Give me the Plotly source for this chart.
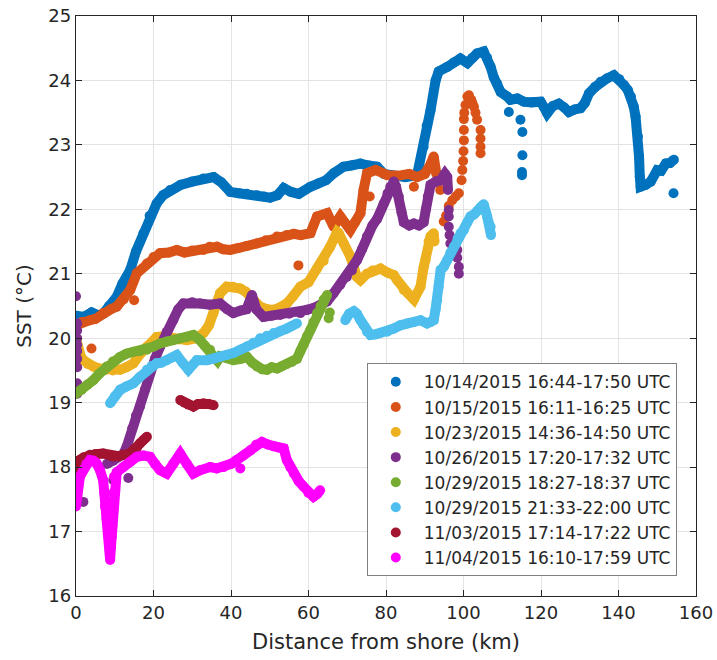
import plotly.graph_objects as go

# ---------------- data ----------------
names = [
    "10/14/2015 16:44-17:50 UTC",
    "10/15/2015 16:11-16:25 UTC",
    "10/23/2015 14:36-14:50 UTC",
    "10/26/2015 17:20-17:32 UTC",
    "10/29/2015 18:27-18:37 UTC",
    "10/29/2015 21:33-22:00 UTC",
    "11/03/2015 17:14-17:22 UTC",
    "11/04/2015 16:10-17:59 UTC",
]
colors = ["#0072BD", "#D95319", "#EDB120", "#7E2F8E",
          "#77AC30", "#4DBEEE", "#A2142F", "#FF00FF"]

s1_x = [0, 2, 4, 6, 7, 8.5, 10.5, 12, 14, 15.5, 17.4, 19, 20.8, 22.5, 24.3, 27, 30, 32.9, 35.5,
        37.5, 39.8, 42, 44, 46.7, 48.5, 50.1, 52, 53.6, 55.5, 57.5, 60.5, 62.5, 64.5, 66.5, 69, 71,
        73.4, 75.5, 77.7, 79.5, 82, 85, 88, 89.7, 90.5, 91.5, 92.8, 93.6, 95.8, 97.5, 99.2, 101,
        102.3, 103.5, 105.2, 106.1, 107, 107.8, 108.7, 109.6, 111.3, 112.1, 113.9, 115.6, 117.5,
        119.9, 120.8, 121.6, 123, 124.6, 126, 127.2, 128.7, 130.2, 131.3, 132.4, 134, 135.4, 137,
        138.8, 140.2, 141.4, 142.4, 143.2, 143.9, 144.4, 145, 145.3, 145.5, 145.7, 147, 148.3,
        150, 151, 152.2, 153.3, 154.3]
s1_y = [20.35, 20.33, 20.4, 20.35, 20.38, 20.5, 20.64, 20.85, 21.06, 21.35, 21.63, 21.9, 22.09,
        22.22, 22.3, 22.38, 22.43, 22.48, 22.5, 22.42, 22.27, 22.25, 22.24, 22.22, 22.2, 22.18,
        22.22, 22.33, 22.27, 22.24, 22.35, 22.4, 22.45, 22.56, 22.66, 22.68, 22.71, 22.68, 22.66,
        22.55, 22.52, 22.5, 22.53, 22.97, 23.3, 23.54, 24.0, 24.14, 24.21, 24.28, 24.34, 24.27,
        24.35, 24.42, 24.45, 24.35, 24.21, 24.05, 23.95, 23.82, 23.75, 23.7, 23.72, 23.67, 23.66,
        23.67, 23.58, 23.49, 23.6, 23.64, 23.58, 23.51, 23.55, 23.57, 23.65, 23.8, 23.9, 23.98,
        24.03, 24.08, 24.02, 23.93, 23.85, 23.75, 23.6, 23.44, 23.13, 22.82, 22.51, 22.35, 22.38,
        22.43, 22.61, 22.6, 22.71, 22.72, 22.77]
s1_ex = [111.7, 114.7, 115.2, 115.2, 115.1, 115.1, 154.2]
s1_ey = [23.51, 23.39, 23.2, 22.84, 22.53, 22.58, 22.25]

s2_x = [0, 1.5, 3.6, 5, 7, 9, 10.5, 12.3, 14, 15.7, 18.3, 20, 21.7, 24, 26, 28, 30, 32.9, 34.5,
        36.4, 38, 39.8, 42, 44, 46.7, 49, 51.9, 54.4, 56.2, 58, 60.5, 62.2, 64.8, 66.5, 68.2, 70.8,
        72, 73.4, 74.2, 75.1, 77.3, 80.3, 83, 86, 88, 90, 91.5, 92.3, 93]
s2_y = [20.2, 20.25, 20.28, 20.3, 20.39, 20.45, 20.49, 20.6, 20.75, 21.01, 21.16, 21.26, 21.32,
        21.33, 21.37, 21.33, 21.36, 21.37, 21.42, 21.42, 21.38, 21.37, 21.4, 21.43, 21.47, 21.52,
        21.58, 21.6, 21.62, 21.6, 21.63, 21.89, 21.94, 21.73, 21.89, 21.68, 21.8, 21.94, 22.3,
        22.56, 22.61, 22.53, 22.52, 22.55, 22.5, 22.55, 22.7, 22.82, 22.55]
s2_ex = [4, 15, 57.4, 75.8, 87.2, 94, 94.9, 95.5, 96.2, 97.1, 98, 98.8, 99.5, 99.7, 99.9, 100,
         100.1, 100.1, 100.1, 100.2, 100.5, 101, 101.4, 102, 102.3, 102.7, 103.1, 103.5, 104.4,
         104.4, 104.4, 104.4]
s2_ey = [19.84, 20.59, 21.13, 22.2, 22.35, 22.3, 21.81, 21.9, 22.05, 22.14, 22.2, 22.25, 22.45,
         22.61, 22.75, 22.9, 23.07, 23.23, 23.4, 23.5, 23.62, 23.75, 23.77, 23.7, 23.65, 23.59,
         23.5, 23.39, 23.23, 23.1, 22.97, 22.87]

s3_x = [0, 0.5, 1.2, 1.9, 3, 4.5, 6, 7.9, 9.5, 11.4, 13, 14.8, 16.5, 18.3, 20.8, 22.5, 24.3, 26.5,
        28.6, 31, 32.9, 34.3, 35.5, 36.3, 37.2, 38.9, 40.5, 42.4, 43.8, 45, 46.3, 47.5, 49.3, 51,
        52.7, 54.4, 56, 57.9, 60, 62.2, 63.9, 65.6, 67.4, 67.8, 69.1, 70.8, 72.5, 73.4, 75.1, 76.5,
        78.6, 80.3, 82, 82.9, 84.6, 85.6, 87.2, 88.9, 89.7, 90.2, 91, 91.5, 92.3, 92.5]
s3_y = [20.0, 19.85, 19.72, 19.66, 19.6, 19.56, 19.53, 19.51, 19.5, 19.51, 19.55, 19.61, 19.75,
        19.87, 20.02, 20.03, 20.02, 19.98, 19.97, 20.0, 20.08, 20.2, 20.39, 20.55, 20.7, 20.8, 20.8,
        20.77, 20.72, 20.64, 20.55, 20.49, 20.45, 20.44, 20.48, 20.54, 20.65, 20.8, 20.87, 21.08,
        21.2, 21.42, 21.65, 21.63, 21.47, 21.27, 20.95, 20.9, 21.0, 21.05, 21.08, 21.02, 20.98,
        20.9, 20.75, 20.7, 20.6, 20.8, 21.1, 21.21, 21.5, 21.58, 21.63, 21.5]
s3_ex = []
s3_ey = []

s4_x = [8, 9.6, 10.5, 12.2, 13.1, 14.5, 15.5, 16.5, 17.8, 19.1, 20.4, 21.7, 23.4, 25.1, 26.4, 27.7,
        30, 32, 34.5, 37.2, 39, 40.6, 42.5, 44, 45.4, 46.5, 48.4, 50.5, 52.7, 55, 57.9, 59.6, 61.3,
        63, 64.8, 66.5, 68.2, 69.9, 71.2, 72.5, 73.8, 75.1, 76.5, 77.7, 79.4, 80.4, 81.1, 82, 82.6,
        83.3, 84, 84.6, 86, 87.2, 88.5, 89.7, 90.3, 90.8, 91.5, 92.8, 94.1, 95.2, 95.8, 96]
s4_y = [18.05, 18.1, 18.16, 18.2, 18.32, 18.6, 18.8, 18.94, 19.2, 19.46, 19.68, 19.87, 20.1, 20.28,
        20.45, 20.54, 20.56, 20.54, 20.52, 20.54, 20.45, 20.39, 20.43, 20.45, 20.67, 20.45, 20.33,
        20.35, 20.36, 20.38, 20.39, 20.44, 20.47, 20.5, 20.57, 20.7, 20.83, 20.95, 21.05, 21.21,
        21.38, 21.58, 21.75, 21.85, 22.09, 22.25, 22.35, 22.43, 22.35, 22.2, 21.95, 21.8, 21.75,
        21.78, 21.75, 21.8, 22.0, 22.2, 22.38, 22.43, 22.45, 22.55, 22.5, 22.3]
s4_ex = [0, 0.3, 0.3, 0.3, 0.3, 0.3, 0.3, 0.3, 0.3, 0.3, 1.9, 9.6, 10.1, 9.6, 13.5, 96.2, 96.2,
         96.2, 96.4, 96.6, 98.4, 98.4, 98.8, 98.8]
s4_ey = [20.65, 20.23, 20.12, 20.0, 19.9, 19.8, 19.68, 19.55, 19.3, 19.14, 17.46, 17.33, 17.64,
         17.8, 17.83, 21.99, 21.89, 21.73, 21.6, 21.47, 21.37, 21.25, 21.11, 21.0]

s5_x = [0, 1.5, 3, 4.5, 6, 7.9, 9.5, 11.4, 13, 14.8, 16.5, 18.3, 20, 21.7, 23.4, 25.1, 27, 28.6,
        30.3, 32, 33.3, 34.6, 35.5, 36.5, 37.2, 38.5, 40.6, 42.5, 44.1, 45.5, 46.7, 48, 49.3, 50.5,
        51.9, 53, 54.4, 55.7, 57, 57.9, 58.7, 59.6, 60.5, 61.3, 62.2, 63.1, 63.9, 64.8]
s5_y = [19.14, 19.2, 19.28, 19.35, 19.45, 19.56, 19.64, 19.71, 19.76, 19.79, 19.8, 19.82, 19.87,
        19.92, 19.95, 19.97, 20.0, 20.02, 20.05, 19.97, 19.88, 19.82, 19.7, 19.65, 19.72, 19.7,
        19.66, 19.68, 19.71, 19.62, 19.56, 19.52, 19.51, 19.55, 19.53, 19.56, 19.6, 19.63, 19.68,
        19.8, 19.9, 20.03, 20.13, 20.25, 20.39, 20.5, 20.6, 20.67]
s5_ex = [65.2, 65.5]
s5_ey = [20.31, 20.4]

s6_x = [8.8, 10, 11.4, 13, 14.8, 16.5, 18.3, 19.5, 20.8, 22, 23.4, 24.8, 26, 27.5, 29, 30, 31.2,
        33.8, 35.5, 37.2, 39, 40.6, 42.4, 44.1, 45.8, 47.5, 49.3, 51, 52.7, 54.4, 55.7, 57, None,
        69.5, 70.5, 71.7, 72.5, 73.4, 74.2, 75.1, 76, 77.3, 78.6, 80.3, 82, 83.7, 85.4, 87.2, 88.9,
        90.6, 91.5, 92.3, 92.8, 93.2, 93.6, 94.1, 94.9, 95.8, 96.6, 97.5, 98.5, 99.2, 100.1, 101,
        101.8, 102.7, 103.5, 104.4, 105.2, 106.1, 106.5, 107, 107.1]
s6_y = [18.99, 19.1, 19.2, 19.25, 19.3, 19.4, 19.51, 19.57, 19.61, 19.62, 19.66, 19.7, 19.74, 19.62,
        19.51, 19.58, 19.66, 19.66, 19.68, 19.71, 19.74, 19.77, 19.82, 19.87, 19.93, 20.0, 20.04,
        20.08, 20.11, 20.15, 20.19, 20.23, None,
        20.28, 20.38, 20.42, 20.38, 20.28, 20.2, 20.1, 20.05, 20.06, 20.08, 20.1, 20.15, 20.2,
        20.23, 20.25, 20.28, 20.23, 20.25, 20.28, 20.45, 20.59, 20.8, 21.06, 21.11, 21.21, 21.33,
        21.42, 21.55, 21.63, 21.68, 21.8, 21.89, 21.92, 21.97, 22.03, 22.08, 21.89, 21.8, 21.73,
        21.6]
s6_ex = []
s6_ey = []

s7_x = [0, 0.5, 1, 2, 3.6, 5, 7, 8.5, 9.6, 11, 12.2, 13.5, 14.8, 15.7, 16.5, 17.4, 18.3, None,
        26.9, 28, 29, 30.3, 31.5, 32.9, 34.2, 35.5]
s7_y = [17.75, 17.95, 18.11, 18.15, 18.19, 18.2, 18.21, 18.18, 18.16, 18.17, 18.19, 18.2, 18.26,
        18.3, 18.37, 18.42, 18.47, None,
        19.04, 19.0, 18.97, 18.94, 18.98, 18.99, 18.98, 18.96]
s7_ex = []
s7_ey = []

s8_x = [0, 0.2, 0.4, 1, 1.9, 2.7, 3.6, 4.5, 5.3, 6.2, 7, 7.3, 7.5, 7.9, 8.3, 8.6, 8.8, 9.0, 9.2,
        9.4, 9.6, 9.7, 9.8, 10.5, 12.2, 14, 15.7, 17.4, 19.1, 20.4, 21.7, 23.4, 25.1, 26.9, 28.6,
        30.3, 32, 34.6, 36.3, 38.1, 40, 41.5, 43.2, 45, 46.5, 48, 49.5, 51, 52.3, 53.6, 54.4, 55.3,
        56.2, 57.5, 58.7, 60, 61.3, 62.2, 63]
s8_y = [17.39, 17.6, 17.75, 17.85, 17.95, 18.05, 18.11, 18.1, 18.06, 17.95, 17.8, 17.6, 17.39,
        17.2, 17.02, 16.8, 16.56, 16.75, 16.92, 17.1, 17.3, 17.6, 17.85, 17.92, 18.0, 18.08, 18.16,
        18.18, 18.16, 18.05, 17.95, 17.9, 18.05, 18.21, 18.05, 17.9, 17.95, 18.0, 17.98, 18.0,
        18.05, 18.11, 18.18, 18.26, 18.35, 18.39, 18.35, 18.32, 18.3, 18.29, 18.11, 18.0, 17.9,
        17.78, 17.7, 17.6, 17.54, 17.58, 17.64]
s8_ex = [42.4]
s8_ey = [17.98]

x_ticks = [0, 20, 40, 60, 80, 100, 120, 140, 160]
y_ticks = [16, 17, 18, 19, 20, 21, 22, 23, 24, 25]

series = [
    (s1_x, s1_y, s1_ex, s1_ey), (s2_x, s2_y, s2_ex, s2_ey),
    (s3_x, s3_y, s3_ex, s3_ey), (s4_x, s4_y, s4_ex, s4_ey),
    (s5_x, s5_y, s5_ex, s5_ey), (s6_x, s6_y, s6_ex, s6_ey),
    (s7_x, s7_y, s7_ex, s7_ey), (s8_x, s8_y, s8_ex, s8_ey),
]

# ---------------- figure ----------------
FONT = "'DejaVu Sans', Arial, sans-serif"
MS = 10
LW = 10

fig = go.Figure()
for i, (sx, sy, ex, ey) in enumerate(series):
    c = colors[i]
    fig.add_trace(go.Scatter(
        x=sx, y=sy, mode="lines", line=dict(color=c, width=LW),
        connectgaps=False, showlegend=False, hoverinfo="skip",
        legendgroup=str(i)))
    fig.add_trace(go.Scatter(
        x=list(sx) + [None] + list(ex), y=list(sy) + [None] + list(ey),
        mode="markers", marker=dict(color=c, size=MS, line=dict(width=0)),
        name=names[i], legendgroup=str(i)))

axis_common = dict(
    showline=True, linecolor="#262626", linewidth=1.3, mirror="ticks",
    ticks="inside", ticklen=6, tickwidth=1.2, tickcolor="#262626",
    showgrid=True, gridcolor="#e3e3e3", gridwidth=1, zeroline=False,
    tickfont=dict(family=FONT, size=18, color="#262626"),
    automargin=False,
)

fig.update_layout(
    width=717, height=660,
    margin=dict(l=76, r=21, t=16, b=64, autoexpand=False),
    paper_bgcolor="white", plot_bgcolor="white",
    font=dict(family=FONT, color="#262626"),
    xaxis=dict(range=[0, 160], tickvals=x_ticks,
               title=dict(text="Distance from shore (km)", font=dict(family=FONT, size=21), standoff=12),
               **axis_common),
    yaxis=dict(range=[16, 25], tickvals=y_ticks,
               title=dict(text="SST (°C)", font=dict(family=FONT, size=20), standoff=11),
               **axis_common),
    legend=dict(x=0.469, y=0.034, xanchor="left", yanchor="bottom",
                bgcolor="white", bordercolor="#808080", borderwidth=1,
                font=dict(family=FONT, size=17, color="#262626"),
                itemwidth=46, tracegroupgap=0),
    showlegend=True,
)

fig.write_html("out.html")
